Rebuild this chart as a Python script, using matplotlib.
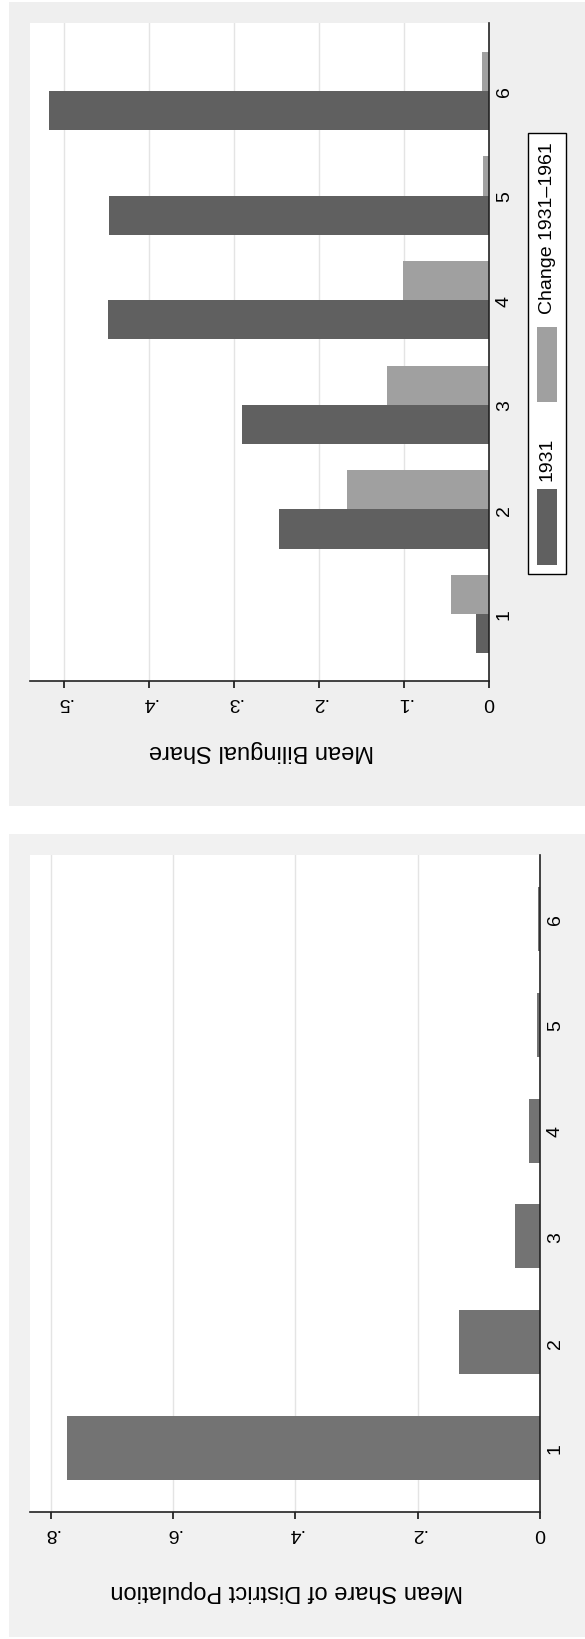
import matplotlib
matplotlib.use("Agg")
import matplotlib.pyplot as plt
from matplotlib.patches import Rectangle
import numpy as np

plt.rcParams['font.family'] = ['Liberation Sans', 'DejaVu Sans']

# data
groups = [1, 2, 3, 4, 5, 6]
share_1931 = [0.015, 0.247, 0.291, 0.449, 0.448, 0.518]
share_change = [0.045, 0.167, 0.120, 0.101, 0.007, 0.008]
pop_share = [0.774, 0.132, 0.041, 0.0175, 0.0054, 0.0027]

bil_ticks = [0, .1, .2, .3, .4, .5]
bil_labels = ["0", ".1", ".2", ".3", ".4", ".5"]
pop_ticks = [0, .2, .4, .6, .8]
pop_labels = ["0", ".2", ".4", ".6", ".8"]

W, H = 585, 1640
fig = plt.figure(figsize=(W / 100, H / 100), dpi=100)
fig.patch.set_facecolor("white")


def rect(x0, y0, x1, y1):
    # pixel box (top-left origin) -> figure fraction
    return [x0 / W, 1 - y1 / H, (x1 - x0) / W, (y1 - y0) / H]


def box(x0, y0, x1, y1, color, z, edge="none", lw=0):
    r = rect(x0, y0, x1, y1)
    fig.patches.append(Rectangle((r[0], r[1]), r[2], r[3], transform=fig.transFigure,
                                 facecolor=color, edgecolor=edge, lw=lw, zorder=z))


box(9, 3, 585, 807, "#efefef", -10)
box(9, 835, 585, 1638, "#f1f1f1", -10)

dark = "#606060"
light = "#a0a0a0"
popc = "#737373"


def style(ax, xmax, ticks, labels, ylo, yhi):
    ax.set_facecolor("white")
    ax.set_xlim(xmax, 0)
    ax.set_ylim(ylo, yhi)
    ax.set_xticks(ticks)
    ax.set_xticklabels(labels, rotation=180, fontsize=14)
    ax.set_yticks(groups)
    ax.set_yticklabels([str(g) for g in groups], rotation=90, fontsize=14, va="center")
    ax.yaxis.tick_right()
    ax.tick_params(axis="y", length=0, pad=5)
    ax.tick_params(axis="x", length=5, width=1.1, pad=4, direction="out")
    for s in ["top", "left"]:
        ax.spines[s].set_visible(False)
    for s in ["bottom", "right"]:
        ax.spines[s].set_linewidth(1.2)
        ax.spines[s].set_color("#222222")
    for t in ticks[1:]:
        ax.axvline(t, color="#e4e4e4", lw=1.0, zorder=0)


# top panel: bilingual share
ax1 = fig.add_axes(rect(30, 24, 489, 682))
ax1.set_zorder(1)
pos = np.array(groups)
w = 0.375
ax1.barh(pos - w / 2, share_1931, height=w, color=dark, zorder=2)
ax1.barh(pos + w / 2, share_change, height=w, color=light, zorder=2)
style(ax1, 0.5406, bil_ticks, bil_labels, 0.36, 6.65)
fig.text(261 / W, 1 - 751 / H, "Mean Bilingual Share", rotation=180,
         ha="center", va="center", fontsize=17)

# legend drawn by hand (rotated)
box(528, 134, 566, 575, "white", 3, edge="black", lw=1)
box(537, 490, 557, 566, dark, 4)
box(537, 328, 557, 403, light, 4)
fig.text(547 / W, 1 - 459 / H, "1931", rotation=90, ha="center", va="center",
         fontsize=14, zorder=5)
fig.text(547 / W, 1 - 228 / H, "Change 1931\u20131961", rotation=90, ha="center",
         va="center", fontsize=14, zorder=5)

# bottom panel: population share
ax2 = fig.add_axes(rect(30, 856, 540, 1513))
ax2.set_zorder(1)
ax2.barh(pos, pop_share, height=0.605, color=popc, zorder=2)
style(ax2, 0.834, pop_ticks, pop_labels, 0.395, 6.605)
fig.text(287 / W, 1 - 1591 / H, "Mean Share of District Population", rotation=180,
         ha="center", va="center", fontsize=17)

fig.savefig("out.png", dpi=100, facecolor="white")
